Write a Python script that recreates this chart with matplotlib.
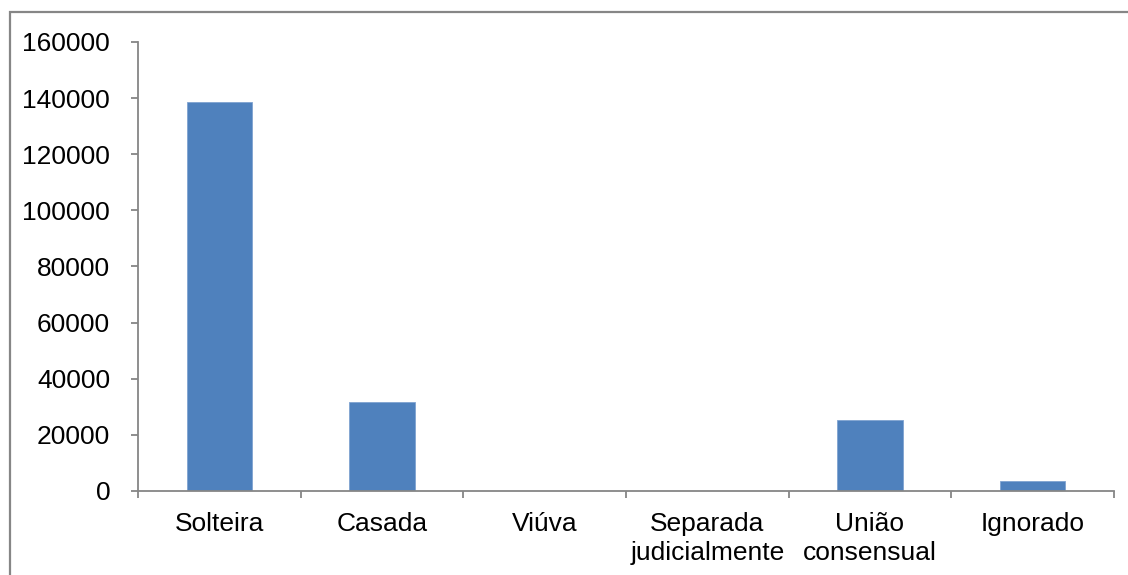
import matplotlib
matplotlib.use("Agg")
import matplotlib.pyplot as plt
from matplotlib.patches import Rectangle
import numpy as np

# ================= DATA =================
categories = ["Solteira", "Casada", "Viúva", "Separada\njudicialmente",
              "União\nconsensual", "Ignorado"]
values = [138700, 31800, 0, 0, 25200, 3600]
y_ticks = [0, 20000, 40000, 60000, 80000, 100000, 120000, 140000, 160000]

# ================= STYLE =================
bar_color = "#4F81BD"
axis_color = "#868686"
plt.rcParams.update({"font.family": ["Liberation Sans", "DejaVu Sans"], "font.size": 19})

fig = plt.figure(figsize=(11.28, 5.75), dpi=100)
ax = fig.add_axes([0.1223, 0.1461, 0.8653, 0.7809])

x = np.arange(len(categories))
ax.bar(x, values, width=0.4, color=bar_color, edgecolor="#7fa3d1", linewidth=0.6, zorder=2)

ax.set_xlim(-0.5, len(categories) - 0.5)
ax.set_ylim(0, 160000)
ax.set_yticks(y_ticks)
ax.set_yticklabels([str(v) for v in y_ticks])

# category labels at centres, tick marks at the boundaries
ax.set_xticks(x)
ax.set_xticklabels(categories, linespacing=1.25, va="top")
ax.set_xticks(np.arange(len(categories) + 1) - 0.5, minor=True)
ax.tick_params(axis="x", which="major", length=0, pad=15)
ax.tick_params(axis="x", which="minor", length=5, width=1.3, color=axis_color, direction="out")
ax.tick_params(axis="y", length=5, width=1.3, color=axis_color, direction="out", pad=15)

for side in ["top", "right"]:
    ax.spines[side].set_visible(False)
for side in ["left", "bottom"]:
    ax.spines[side].set_color(axis_color)
    ax.spines[side].set_linewidth(1.3)

# chart-area border (clipped at right/bottom like the reference)
W, H = 1128, 575
fig.patches.append(Rectangle((9.5 / W, -0.2), 1.5, 1.2 - 11.5 / H, transform=fig.transFigure,
                             fill=False, edgecolor=axis_color, linewidth=1.6))

fig.savefig("out.png", dpi=100)
